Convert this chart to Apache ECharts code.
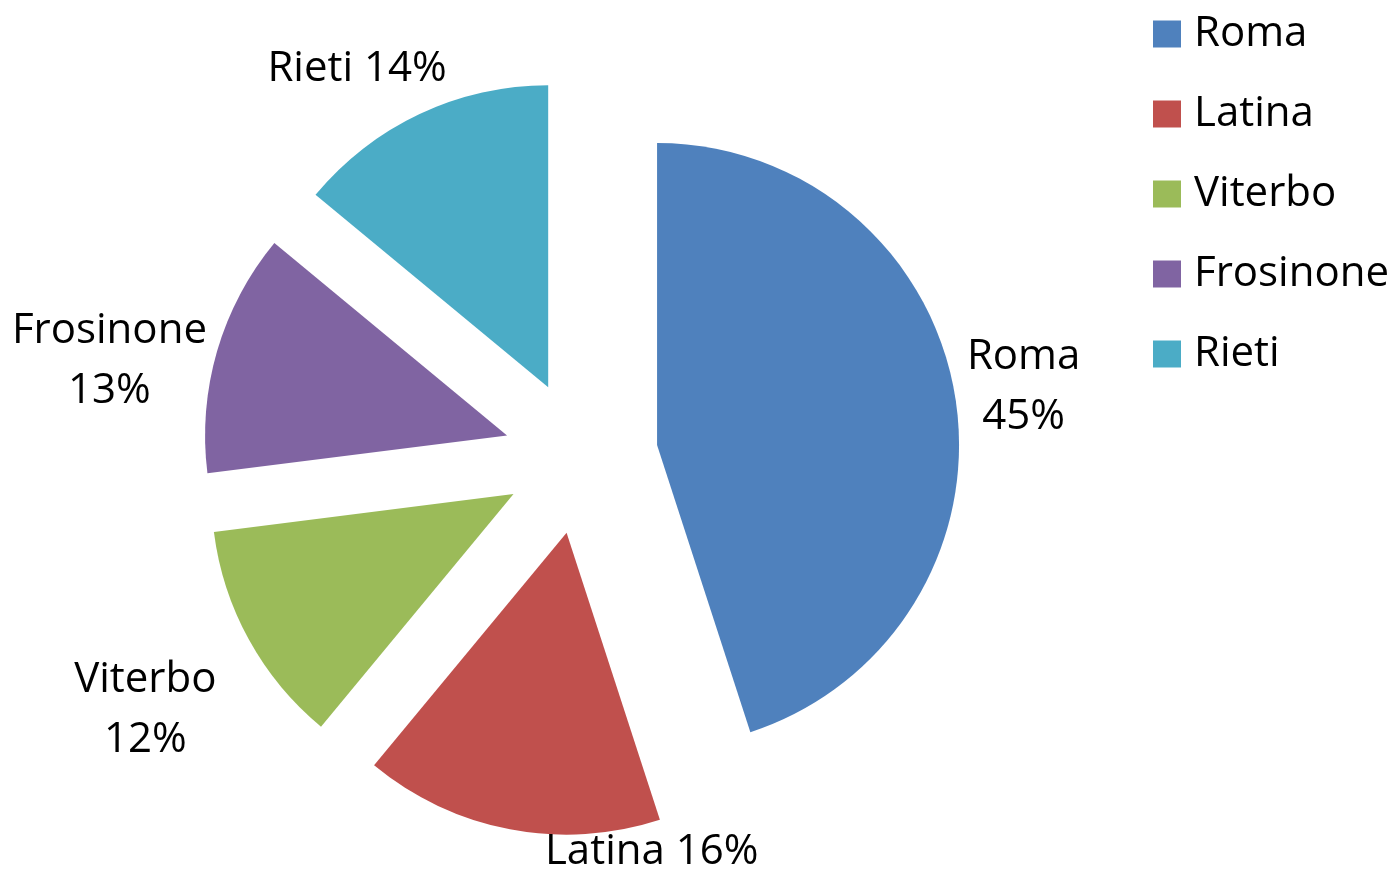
<!DOCTYPE html>
<html>
<head>
<meta charset="utf-8">
<script src="https://cdn.jsdelivr.net/npm/echarts@6/dist/echarts.min.js"></script>
<style>
html,body{margin:0;padding:0;background:#fff;}
#chart{width:1393px;height:869px;}
</style>
</head>
<body>
<div id="chart"></div>
<script>
const categories = ['Roma', 'Latina', 'Viterbo', 'Frosinone', 'Rieti'];
const values = [45, 16, 12, 13, 14];
const colors = ['#4F81BD', '#C0504D', '#9BBB59', '#8064A2', '#4BACC6'];
// label text layout: multi-line or single-line per slice
const labelBreak = [true, false, true, true, false];
// label nudges (style only)
const labelNudge = [[4, -1], [158, -36], [-46, 42], [-45, 27], [-32, 9]];

const FONT = '"Open Sans", sans-serif';
const chart = echarts.init(document.getElementById('chart'), null, {renderer: 'canvas'});

const data = categories.map((c, i) => ({
  name: c,
  value: values[i],
  selected: true,
  itemStyle: {color: colors[i]}
}));

chart.setOption({
  animation: false,
  legend: {
    orient: 'vertical',
    left: 1148,
    top: 8,
    itemWidth: 28,
    itemHeight: 27,
    itemGap: 38,
    icon: 'rect',
    selectedMode: false,
    textStyle: {fontFamily: FONT, fontSize: 42, color: '#000', lineHeight: 42, padding: [0, 0, 0, 8]},
    data: categories
  },
  series: [{
    type: 'pie',
    center: [581, 457],
    radius: 302,
    startAngle: 90,
    clockwise: true,
    selectedMode: 'multiple',
    selectedOffset: 77,
    emphasis: {disabled: true},
    avoidLabelOverlap: false,
    label: {
      show: true,
      position: 'outside',
      fontFamily: FONT,
      fontSize: 42,
      lineHeight: 60,
      color: '#000',
      formatter: function (p) {
        return p.name + (labelBreak[p.dataIndex] ? '\n' : ' ') + Math.round(p.percent) + '%';
      }
    },
    labelLine: {show: false, length: 60, length2: 0},
    labelLayout: function (p) {
      const n = labelNudge[p.dataIndex];
      return {align: 'center', verticalAlign: 'middle', dx: n[0], dy: n[1]};
    },
    data: data
  }]
});
</script>
</body>
</html>
